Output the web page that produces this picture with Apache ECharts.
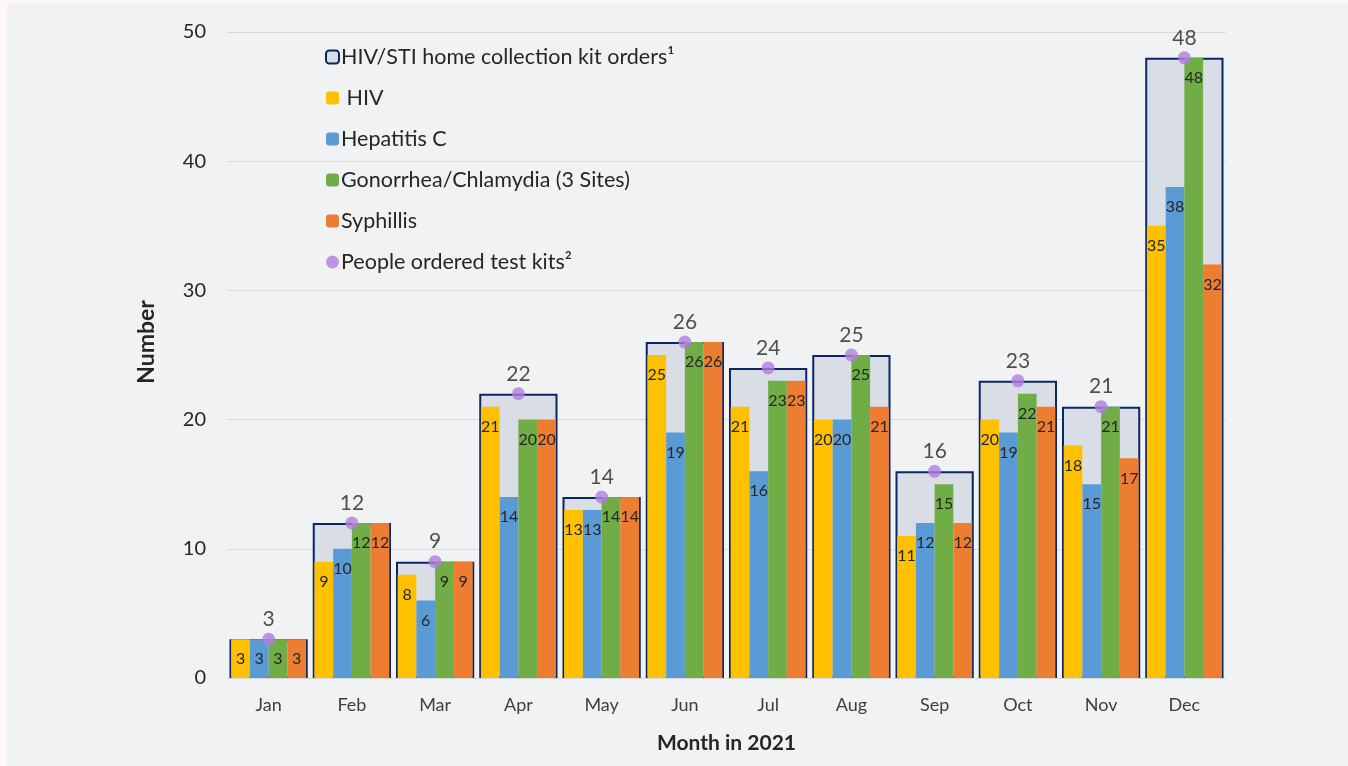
<!DOCTYPE html>
<html>
<head>
<meta charset="utf-8">
<script src="https://cdn.jsdelivr.net/npm/echarts@6/dist/echarts.min.js"></script>
<style>
  html, body { margin: 0; padding: 0; background: #fdf7f6; }
  #chart { position: absolute; left: 7px; top: 4px; width: 1341px; height: 762px; background: #f1f2f4; }
</style>
</head>
<body>
<div id="chart"></div>
<script>
const months = ["Jan", "Feb", "Mar", "Apr", "May", "Jun", "Jul", "Aug", "Sep", "Oct", "Nov", "Dec"];
const kitOrders = [3, 12, 9, 22, 14, 26, 24, 25, 16, 23, 21, 48];
const hiv = [3, 9, 8, 21, 13, 25, 21, 20, 11, 20, 18, 35];
const hepC = [3, 10, 6, 14, 13, 19, 16, 20, 12, 19, 15, 38];
const gonoChlam = [3, 12, 9, 20, 14, 26, 23, 25, 15, 22, 21, 48];
const syphilis = [3, 12, 9, 20, 14, 26, 23, 21, 12, 21, 17, 32];
const people = [3, 12, 9, 22, 14, 26, 24, 25, 16, 23, 21, 48];
const yTicks = { min: 0, max: 50, interval: 10 };

const FONT = "Lato";
const TXT = "#262626";

const initChart = (target) => {
  if (!target) {
    return;
  }
  const myChart = echarts.init(target, null, { renderer: "canvas" });

  const innerBar = (name, data, color) => ({
    name: name,
    type: "bar",
    xAxisIndex: 0,
    data: data,
    barGap: "0%",
    barCategoryGap: "10%",
    z: 3,
    itemStyle: { color: color },
    label: {
      show: true,
      position: "insideTop",
      distance: 12,
      fontFamily: FONT,
      fontSize: 16,
      color: TXT,
    },
  });

  const option = {
    animation: false,
    textStyle: { fontFamily: FONT },
    grid: { left: 220, right: 122, top: 28, bottom: 88 },
    legend: {
      orient: "vertical",
      left: 313,
      top: 37,
      itemWidth: 13,
      itemHeight: 13,
      itemGap: 19,
      textStyle: { fontFamily: FONT, fontSize: 21.5, lineHeight: 21, color: TXT, padding: [0, 0, 0, -3] },
      data: [
        "HIV/STI home collection kit orders¹",
        " HIV",
        "Hepatitis C",
        "Gonorrhea/Chlamydia (3 Sites)",
        "Syphillis",
        { name: "People ordered test kits²", icon: "circle" },
      ],
    },
    xAxis: [
      {
        type: "category",
        data: months,
        axisLine: { show: false },
        axisTick: { show: false },
        axisLabel: { fontFamily: FONT, fontSize: 18, color: "#404040", margin: 18 },
        name: "Month in 2021",
        nameLocation: "middle",
        nameGap: 55,
        nameTextStyle: { fontFamily: FONT, fontSize: 21, fontWeight: "bold", color: TXT },
      },
      {
        type: "category",
        data: months,
        show: false,
      },
    ],
    yAxis: {
      type: "value",
      min: yTicks.min,
      max: yTicks.max,
      interval: yTicks.interval,
      axisLine: { show: false },
      axisTick: { show: false },
      axisLabel: { fontFamily: FONT, fontSize: 20, color: TXT, margin: 21 },
      splitLine: { lineStyle: { color: "#d9d9d9", width: 1 } },
    },
    graphic: [
      {
        type: "text",
        x: 140,
        y: 338,
        rotation: Math.PI / 2,
        style: {
          text: "Number",
          fontFamily: FONT,
          fontSize: 23,
          fontWeight: "bold",
          fill: TXT,
          align: "center",
          verticalAlign: "middle",
        },
      },
    ],
    series: [
      {
        name: "HIV/STI home collection kit orders¹",
        type: "bar",
        xAxisIndex: 1,
        data: kitOrders,
        barWidth: "94%",
        z: 2,
        itemStyle: { color: "#d9dee6", borderColor: "#0b2565", borderWidth: 2 },
      },
      innerBar(" HIV", hiv, "#ffc000"),
      innerBar("Hepatitis C", hepC, "#5b9bd5"),
      innerBar("Gonorrhea/Chlamydia (3 Sites)", gonoChlam, "#70ad47"),
      innerBar("Syphillis", syphilis, "#ed7d31"),
      {
        name: "People ordered test kits²",
        type: "scatter",
        xAxisIndex: 1,
        data: people,
        symbol: "circle",
        symbolSize: 13,
        z: 5,
        itemStyle: { color: "#b07ddf" },
        label: {
          show: true,
          position: "top",
          distance: 3,
          fontFamily: FONT,
          fontSize: 21,
          color: TXT,
        },
      },
    ],
  };

  option && myChart.setOption(option);
  return myChart;
};

initChart(document.getElementById("chart"));
</script>
</body>
</html>
